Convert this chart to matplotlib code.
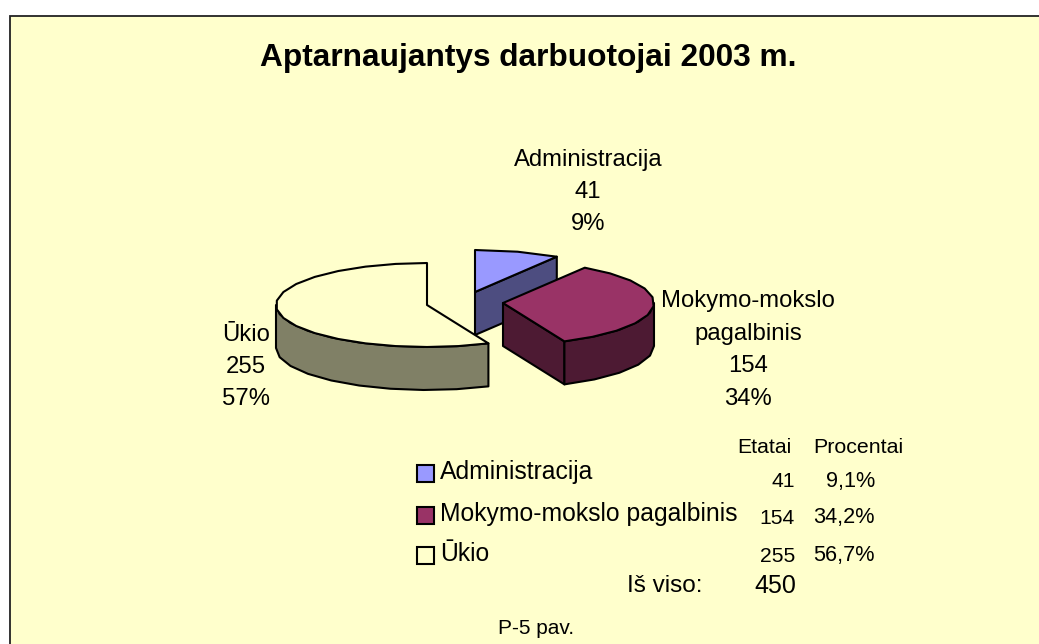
import numpy as np
import matplotlib
matplotlib.use("Agg")
import matplotlib.pyplot as plt
from matplotlib.patches import Rectangle, Polygon

plt.rcParams['font.family'] = ['Liberation Sans', 'DejaVu Sans']

# duomenys
title = "Aptarnaujantys darbuotojai 2003 m."
categories = ["Administracija", "Mokymo-mokslo pagalbinis", "Ūkio"]
slice_labels = ["Administracija", "Mokymo-mokslo\npagalbinis", "Ūkio"]
etatai = [41, 154, 255]
procentai = ["9,1%", "34,2%", "56,7%"]
label_percent = [9, 34, 57]
total_label = "Iš viso:"
total = 450
caption = "P-5 pav."

top_colors = ["#9999FF", "#993366", "#FFFFCC"]
side_colors = ["#4D4D80", "#4D1A33", "#808066"]
bg = "#FFFFCC"

# pyrago geometrija pikseliais
centers = [(475, 292), (503, 303), (427, 305)]
rx, ry, depth = 151, 42, 43
label_pos = [(588, 192), (748, 350), (246, 367)]

fig = plt.figure(figsize=(10.39, 6.44), dpi=100)
ax = fig.add_axes([0, 0, 1, 1])
ax.set_xlim(0, 1039)
ax.set_ylim(644, 0)
ax.axis("off")

ax.add_patch(Rectangle((10, 16), 1100, 700, fc=bg, ec="#222222", lw=1.3, zorder=0))


def rim(cx, cy, a0, a1, step=12):
    # laipsniai pagal laikrodzio rodykle nuo virsaus
    n = max(int(abs(a1 - a0) / step), 1) + 1
    a = np.radians(np.linspace(a0, a1, n))
    return np.column_stack([cx + rx * np.sin(a), cy - ry * np.cos(a)])


def down(pts):
    return pts + np.array([0, depth])


edges = np.concatenate([[0], np.cumsum(etatai)]) / sum(etatai) * 360
kw = dict(ec="black", lw=1.5, joinstyle="round")

for i in range(3):
    cx, cy = centers[i]
    a0, a1 = edges[i], edges[i + 1]
    apex = np.array([[cx, cy]])
    z = 2 + i

    # vidine siena
    if a1 < 180:
        end = rim(cx, cy, a1, a1)[:1]
        face = np.vstack([apex, end, down(end), down(apex)])
        ax.add_patch(Polygon(face, fc=side_colors[i], zorder=z, **kw))

    # isorine siena
    s0, s1 = max(a0, 90), min(a1, 270)
    if s1 > s0:
        arc = rim(cx, cy, s0, s1)
        ax.add_patch(Polygon(np.vstack([arc, down(arc)[::-1]]), fc=side_colors[i], zorder=z, **kw))

    # virsus
    ax.add_patch(Polygon(np.vstack([apex, rim(cx, cy, a0, a1)]), fc=top_colors[i], zorder=z + 0.5, **kw))

    ax.text(label_pos[i][0], label_pos[i][1], f"{slice_labels[i]}\n{etatai[i]}\n{label_percent[i]}%",
            ha="center", va="center", fontsize=17.2, linespacing=1.61, zorder=10)

ax.text(528, 58, title, ha="center", va="center", fontsize=22.8, fontweight="bold")

# legenda ir lentele
legend_y = [473, 515, 555]
row_y = [481, 518, 556]
for i in range(3):
    ax.add_patch(Rectangle((417, legend_y[i] - 8), 17, 17, fc=top_colors[i], ec="black", lw=1.5, zorder=5))
    ax.text(440, legend_y[i] - 1, categories[i], ha="left", va="center", fontsize=17.8)
    ax.text(795, row_y[i], str(etatai[i]), ha="right", va="center", fontsize=15.2)
    ax.text(875, row_y[i], procentai[i], ha="right", va="center", fontsize=15.6)

ax.text(737, 447, "Etatai", ha="left", va="center", fontsize=15.2)
ax.text(813, 447, "Procentai", ha="left", va="center", fontsize=15.4)
ax.text(665, 586, total_label, ha="center", va="center", fontsize=17.5)
ax.text(796, 586, str(total), ha="right", va="center", fontsize=18)
ax.text(536, 629, caption, ha="center", va="center", fontsize=15)

fig.savefig("out.png", dpi=100, facecolor="white")
